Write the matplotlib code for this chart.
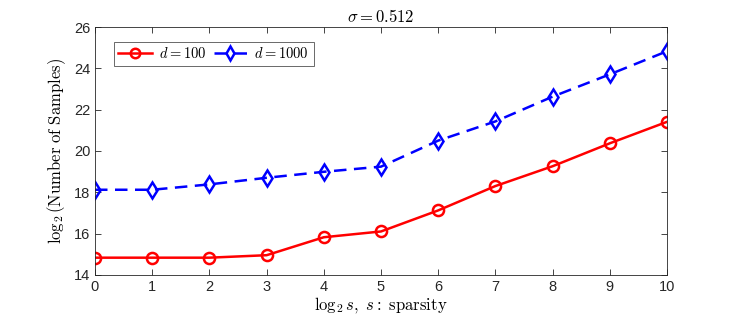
import numpy as np
import matplotlib.pyplot as plt

plt.rcParams['font.family'] = ['Liberation Sans', 'DejaVu Sans']
plt.rcParams['mathtext.fontset'] = 'cm'

# log2 of sparsity
log_s = [0, 1, 2, 3, 4, 5, 6, 7, 8, 9, 10]

# log2(number of samples) for each dimension
samples_d100 = [14.83, 14.83, 14.83, 14.95, 15.82, 16.10, 17.12, 18.30, 19.26, 20.37, 21.41]
samples_d1000 = [18.12, 18.12, 18.38, 18.70, 18.99, 19.24, 20.50, 21.43, 22.63, 23.71, 24.83]

y_ticks = [14, 16, 18, 20, 22, 24, 26]

fig = plt.figure(figsize=(7.33, 3.26), dpi=100)
ax = fig.add_axes([0.1296, 0.157, 0.7804, 0.760])

ax.plot(log_s, samples_d100, color='red', lw=1.8, marker='o', ms=8,
        mfc='none', mew=1.8, label=r'$d = 100$')
ax.plot(log_s, samples_d1000, color='blue', lw=1.8, ls=(0, (5, 3)), marker='d', ms=8,
        mfc='none', mew=1.8, label=r'$d = 1000$')

ax.set_xlim(0, 10)
ax.set_ylim(14, 26)
ax.set_xticks(log_s)
ax.set_yticks(y_ticks)
ax.tick_params(direction='in', top=True, right=True, labelsize=10.5,
               colors='#262626', length=4, width=0.6)
for sp in ax.spines.values():
    sp.set_color('#262626')
    sp.set_linewidth(0.6)

ax.set_xlabel(r'$\log_2 s,\ s\mathrm{:\ sparsity}$', fontsize=12, labelpad=1)
ax.set_ylabel(r'$\log_2(\mathrm{Number\ of\ Samples})$', fontsize=12, labelpad=4)
ax.set_title(r'$\sigma = 0.512$', fontsize=12, pad=4)

leg = ax.legend(loc='upper left', ncol=2, fontsize=10.5, frameon=True, fancybox=False,
                edgecolor='#262626', handlelength=2.3, columnspacing=0.5,
                handletextpad=0.5, borderpad=0.3, markerscale=0.85,
                bbox_to_anchor=(0.02, 0.97))
leg.get_frame().set_linewidth(0.6)

plt.savefig('out.png', dpi=100)
